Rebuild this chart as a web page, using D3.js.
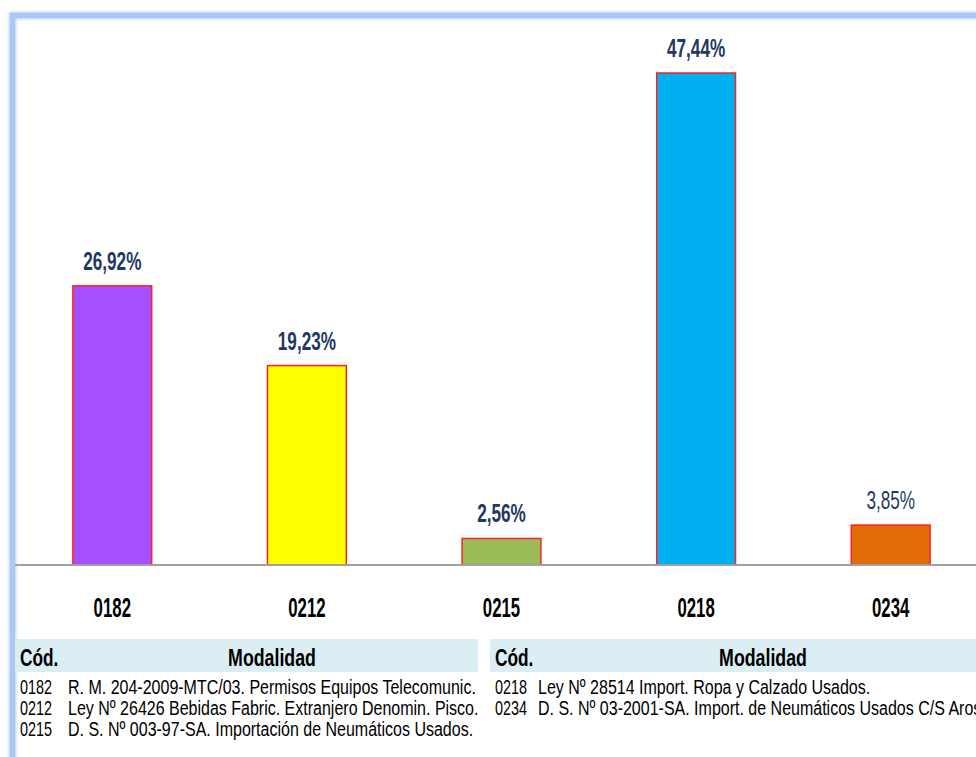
<!DOCTYPE html>
<html>
<head>
<meta charset="utf-8">
<script src="https://cdn.jsdelivr.net/npm/d3@7"></script>
<style>
  body { margin:0; background:#fff; }
  svg { display:block; font-family:"Liberation Sans",Arial,sans-serif; }
</style>
</head>
<body>
<div id="chart"></div>
<script>
// chart data
var codes = ["0182", "0212", "0215", "0218", "0234"];
var values = [26.92, 19.23, 2.56, 47.44, 3.85];
var barColors = ["#A64FFF", "#FFFF00", "#9BBB59", "#00B0F0", "#E36C0A"];
var legendLeft = [
  ["0182", "R. M. 204-2009-MTC/03. Permisos Equipos Telecomunic."],
  ["0212", "Ley Nº 26426 Bebidas Fabric. Extranjero Denomin. Pisco."],
  ["0215", "D. S. Nº 003-97-SA.  Importación de Neumáticos Usados."]
];
var legendRight = [
  ["0218", "Ley Nº 28514 Import. Ropa y Calzado Usados."],
  ["0234", "D. S. Nº 03-2001-SA. Import. de Neumáticos Usados C/S Aros"]
];

var W = 976, H = 757;
var baseY = 565, topY = 73;

var svg = d3.select("#chart").append("svg").attr("width", W).attr("height", H);

// soft blue frame
var defs = svg.append("defs");
defs.append("filter").attr("id", "soft").append("feGaussianBlur").attr("stdDeviation", 1.5);
svg.append("rect").attr("x", 12.5).attr("y", 15.5).attr("width", 1100).attr("height", 900)
  .attr("fill", "none").attr("stroke", "#B4D0F6").attr("stroke-width", 7).attr("filter", "url(#soft)");
svg.append("rect").attr("x", 12.5).attr("y", 15.5).attr("width", 1100).attr("height", 900)
  .attr("fill", "none").attr("stroke", "#A9C9F4").attr("stroke-width", 5);

var data = codes.map(function(c, i){ return {code:c, value:values[i], color:barColors[i]}; });

var x = d3.scaleBand().domain(codes).range([15, 988]).paddingInner(0.595).paddingOuter(0.2975);
var y = d3.scaleLinear().domain([0, d3.max(values)]).range([baseY, topY]);

// narrow text: regular sans squeezed horizontally
function narrow(px, py, sx){ return "translate(" + px + "," + py + ") scale(" + sx + ",1)"; }

// bars
svg.append("g").selectAll("rect").data(data).enter().append("rect")
  .attr("x", function(d){ return x(d.code); })
  .attr("y", function(d){ return y(d.value); })
  .attr("width", x.bandwidth())
  .attr("height", function(d){ return baseY - y(d.value); })
  .attr("fill", function(d){ return d.color; })
  .attr("stroke", "#FF2020").attr("stroke-width", 1.5);

// value labels
svg.append("g").selectAll("text").data(data).enter().append("text")
  .attr("transform", function(d){ return narrow(x(d.code) + x.bandwidth()/2, y(d.value) - 16, 0.66); })
  .attr("text-anchor", "middle")
  .attr("font-size", "26px")
  .attr("font-weight", function(d){ return d.code == "0234" ? "normal" : "bold"; })
  .attr("fill", "#1F3864")
  .text(function(d){ return d.value.toFixed(2).replace(".", ",") + "%"; });

// axis
var axis = svg.append("g").attr("transform", "translate(0," + baseY + ")")
  .call(d3.axisBottom(x).tickSize(0).tickPadding(32));
axis.select(".domain").attr("d", "M15,0H976").attr("stroke", "#A0A0A0").attr("stroke-width", 2);
axis.selectAll(".tick text").attr("font-size", "28px").attr("font-weight", "bold")
  .attr("fill", "#000").attr("font-family", null).attr("transform", "scale(0.6,1)");

// legend tables
function table(rows, x0, x1, cx, descX){
  var g = svg.append("g");
  g.append("rect").attr("x", x0).attr("y", 639).attr("width", x1 - x0).attr("height", 33).attr("fill", "#DAEEF3");
  g.append("text").attr("transform", narrow(x0 + 5, 666, 0.72))
    .attr("font-size", "24px").attr("font-weight", "bold").text("Cód.");
  g.append("text").attr("transform", narrow(cx, 666, 0.74)).attr("text-anchor", "middle")
    .attr("font-size", "24px").attr("font-weight", "bold").text("Modalidad");
  var r = g.selectAll("g.row").data(rows).enter().append("g").attr("class", "row");
  r.append("text").attr("transform", function(d, i){ return narrow(x0 + 5, 694 + i*21, 0.72); })
    .attr("font-size", "20px").text(function(d){ return d[0]; });
  r.append("text").attr("transform", function(d, i){ return narrow(descX, 694 + i*21, 0.8); })
    .attr("font-size", "20px").text(function(d){ return d[1]; });
}
table(legendLeft, 15, 478, 272, 68);
table(legendRight, 490, 976, 763, 538);
</script>
</body>
</html>
